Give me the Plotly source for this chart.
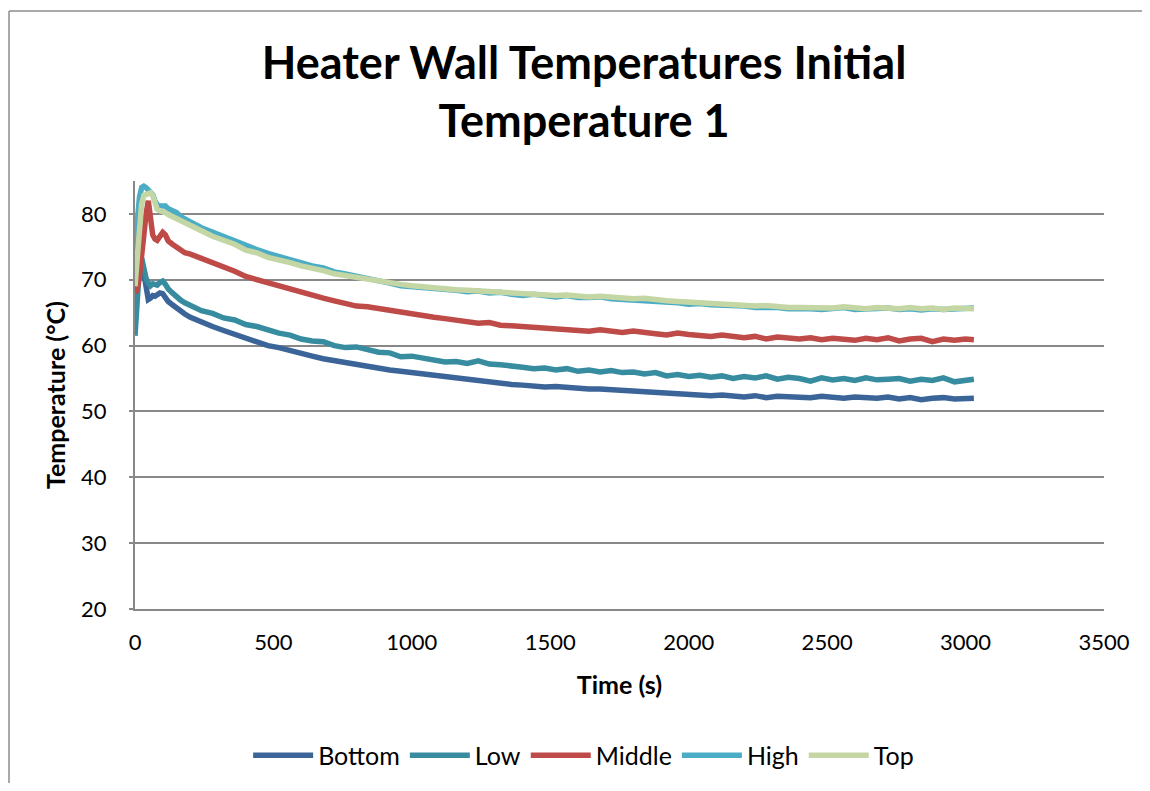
import plotly.graph_objects as go

time_s = [0, 8, 16, 24, 32, 40, 48, 56, 64, 72, 80, 90, 100, 110, 120, 135, 150, 165, 180,
          200, 240, 280, 320, 360, 400, 440, 480, 520, 560,
          600, 640, 680, 720, 760, 800, 840, 880, 920, 960,
          1000, 1040, 1080, 1120, 1160, 1200, 1240, 1280, 1320, 1360,
          1400, 1440, 1480, 1520, 1560, 1600, 1640, 1680, 1720, 1760,
          1800, 1840, 1880, 1920, 1960, 2000, 2040, 2080, 2120, 2160,
          2200, 2240, 2280, 2320, 2360, 2400, 2440, 2480, 2520, 2560,
          2600, 2640, 2680, 2720, 2760, 2800, 2840, 2880, 2920, 2960,
          3000, 3030]

bottom = [68.5, 71.5, 73.2, 73.0, 70.5, 68.5, 67.0, 67.2, 67.6, 67.5, 67.7, 68.0, 67.9, 67.2, 66.7, 66.2, 65.7, 65.2, 64.8,
          64.3, 63.5, 62.9, 62.3, 61.7, 61.2, 60.5, 60.0, 59.7, 59.2,
          58.8, 58.4, 58.0, 57.7, 57.3, 57.1, 56.8, 56.6, 56.3, 56.1,
          55.9, 55.7, 55.4, 55.1, 54.9, 54.7, 54.5, 54.4, 54.3, 54.1,
          54.0, 53.8, 53.7, 53.8, 53.6, 53.5, 53.4, 53.4, 53.3, 53.1,
          53.1, 53.0, 52.8, 52.9, 52.6, 52.5, 52.6, 52.4, 52.5, 52.3,
          52.2, 52.4, 52.1, 52.3, 52.2, 52.3, 52.1, 52.3, 52.2, 52.0,
          52.2, 52.1, 52.0, 52.2, 51.9, 52.1, 51.8, 52.0, 52.1, 51.9,
          52.0, 52.0]

low = [61.5, 66.0, 72.0, 73.3, 71.5, 70.2, 69.5, 69.1, 69.4, 69.3, 69.2, 69.6, 69.8, 69.3, 68.6, 68.0, 67.3, 66.9, 66.5,
       66.1, 65.3, 64.9, 64.2, 63.9, 63.2, 62.9, 62.3, 61.9, 61.6,
       61.0, 60.7, 60.6, 60.0, 59.7, 59.8, 59.4, 59.0, 58.9, 58.3,
       58.4, 58.1, 57.9, 57.5, 57.6, 57.3, 57.7, 57.2, 57.1, 56.8,
       56.7, 56.5, 56.6, 56.3, 56.5, 56.1, 56.3, 56.0, 56.2, 55.9,
       56.0, 55.7, 55.9, 55.4, 55.6, 55.3, 55.5, 55.2, 55.4, 55.0,
       55.3, 55.1, 55.4, 54.9, 55.2, 55.0, 54.6, 55.1, 54.8, 55.0,
       54.7, 55.1, 54.8, 54.9, 55.0, 54.6, 54.9, 54.7, 55.1, 54.5,
       54.8, 54.9]

middle = [68.0, 68.5, 70.5, 74.0, 77.5, 80.0, 82.0, 79.0, 76.8, 76.2, 76.0, 76.6, 77.2, 76.8, 75.9, 75.4, 74.9, 74.4, 74.1,
          73.9, 73.3, 72.6, 71.9, 71.3, 70.5, 70.0, 69.6, 69.0, 68.6,
          68.1, 67.5, 67.2, 66.8, 66.4, 66.0, 65.9, 65.6, 65.3, 65.0,
          64.8, 64.6, 64.3, 64.1, 63.8, 63.7, 63.4, 63.5, 63.1, 63.0,
          62.9, 62.8, 62.6, 62.7, 62.4, 62.5, 62.2, 62.4, 62.1, 62.0,
          62.2, 61.9, 61.8, 61.6, 61.9, 61.7, 61.5, 61.4, 61.6, 61.3,
          61.2, 61.4, 61.0, 61.3, 61.1, 61.0, 61.2, 60.9, 61.1, 61.0,
          60.8, 61.1, 60.9, 61.2, 60.7, 61.0, 61.1, 60.6, 61.0, 60.8,
          61.0, 60.9]

high = [74.5, 78.5, 82.5, 84.0, 84.2, 84.0, 83.6, 83.3, 82.9, 82.0, 81.4, 81.2, 81.3, 81.2, 80.8, 80.6, 80.2, 79.6, 79.2,
        78.8, 77.9, 77.2, 76.5, 75.9, 75.1, 74.6, 74.0, 73.5, 73.0,
        72.6, 72.1, 71.8, 71.2, 70.9, 70.6, 70.1, 69.9, 69.5, 69.1,
        69.0, 68.8, 68.7, 68.5, 68.4, 68.2, 68.3, 68.0, 68.1, 67.8,
        67.6, 67.8, 67.5, 67.4, 67.6, 67.3, 67.3, 67.4, 67.1, 67.0,
        66.9, 67.0, 66.7, 66.6, 66.5, 66.3, 66.4, 66.2, 66.2, 66.0,
        66.0, 65.8, 65.9, 65.8, 65.6, 65.7, 65.6, 65.5, 65.6, 65.8,
        65.5, 65.6, 65.5, 65.7, 65.5, 65.6, 65.4, 65.6, 65.5, 65.6,
        65.5, 65.7]

top = [69.0, 74.0, 78.5, 81.5, 82.8, 83.0, 83.2, 83.2, 82.8, 81.5, 80.7, 80.5, 80.4, 80.2, 79.9, 79.6, 79.3, 79.0, 78.7,
       78.3, 77.3, 76.6, 76.0, 75.4, 74.5, 74.1, 73.4, 73.1, 72.6,
       72.1, 71.8, 71.4, 70.9, 70.6, 70.4, 70.0, 69.8, 69.6, 69.3,
       69.1, 68.9, 68.8, 68.6, 68.5, 68.4, 68.3, 68.1, 68.2, 68.0,
       67.8, 67.9, 67.7, 67.6, 67.7, 67.5, 67.4, 67.5, 67.3, 67.2,
       67.1, 67.2, 66.9, 66.8, 66.7, 66.6, 66.5, 66.5, 66.3, 66.1,
       66.2, 66.0, 66.1, 65.9, 65.8, 65.8, 65.7, 65.8, 65.7, 65.9,
       65.7, 65.6, 65.8, 65.7, 65.6, 65.8, 65.6, 65.7, 65.5, 65.7,
       65.6, 65.6]

series_names = ["Bottom", "Low", "Middle", "High", "Top"]
series_values = [bottom, low, middle, high, top]
series_colors = ["#3B6598", "#378C9F", "#BE4B48", "#4BACC6", "#C3D6A3"]

FONT = "Lato, 'Open Sans', sans-serif"
GRID = "#888888"

fig = go.Figure()
for name, vals, col in zip(series_names, series_values, series_colors):
    fig.add_trace(go.Scatter(x=time_s, y=vals, name=name, mode="lines",
                             line=dict(color=col, width=5.5, shape="linear")))

# The page body has an 8px default margin, so the figure is sized to fit the
# window exactly and offsets are compensated.
fig.update_layout(
    width=1134, height=775,
    margin=dict(l=127, r=38, t=173, b=174, autoexpand=False),
    paper_bgcolor="white", plot_bgcolor="white",
    font=dict(family=FONT, size=22, color="#000000"),
    title=dict(text="<b>Heater Wall Temperatures Initial<br>Temperature 1</b>",
               x=0.508, xanchor="center", y=0.909, yanchor="top",
               font=dict(family=FONT, size=45, color="#000000")),
    showlegend=True,
    legend=dict(orientation="h", x=0.463, xanchor="center", y=-0.342, yanchor="middle",
                font=dict(family=FONT, size=25, color="#000000"),
                itemwidth=60, tracegroupgap=0, bgcolor="rgba(0,0,0,0)"),
    xaxis=dict(range=[0, 3500], dtick=500, tick0=0, showgrid=False, zeroline=False,
               showline=True, linecolor=GRID, linewidth=2, ticks="",
               ticklabelstandoff=13, automargin=False,
               title=dict(text="<b>Time (s)</b>", font=dict(family=FONT, size=25), standoff=22)),
    yaxis=dict(range=[20, 85], dtick=10, tick0=20, showgrid=True, gridcolor=GRID, gridwidth=2,
               zeroline=False, showline=True, linecolor=GRID, linewidth=2,
               ticks="outside", ticklen=4, tickcolor=GRID, tickwidth=2,
               ticklabelstandoff=18, automargin=False,
               title=dict(text="<b>Temperature (°C)</b>", font=dict(family=FONT, size=25), standoff=8)),
)

# chart-area border: only its top and left edges fall inside the window
bx0 = (9 - 135) / 969
by1 = (609 - 11) / 428
fig.add_shape(type="line", xref="paper", yref="paper",
              x0=bx0, x1=(1250 - 135) / 969, y0=by1, y1=by1,
              line=dict(color="#8c8c8c", width=1.5), layer="below")
fig.add_shape(type="line", xref="paper", yref="paper",
              x0=bx0, x1=bx0, y0=(609 - 900) / 428, y1=by1,
              line=dict(color="#8c8c8c", width=1.5), layer="below")

fig.write_html("out.html")
